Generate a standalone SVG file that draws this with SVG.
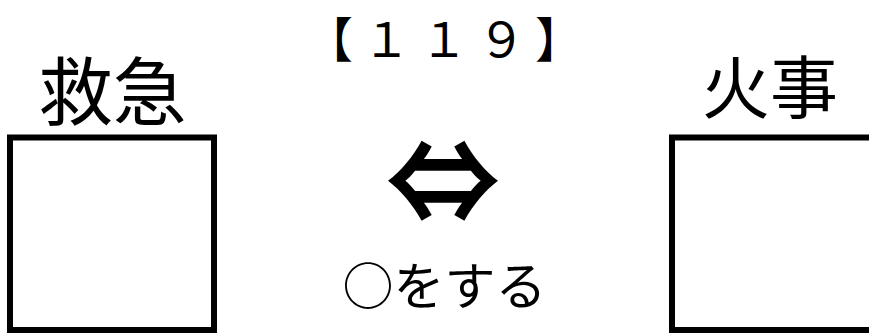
<svg xmlns="http://www.w3.org/2000/svg" width="869" height="333" viewBox="0 0 869 333">
  <style>
    .t { font-family: "Noto Sans CJK JP", "Noto Sans", sans-serif; fill: #000; text-anchor: middle; }
    .box { fill: #fff; stroke: #000; stroke-width: 6; }
  </style>
  <rect x="0" y="0" width="869" height="333" fill="#fff"/>
  <g id="title">
    <text x="305" y="57" font-size="48" letter-spacing="9.5" style="font-family: 'Noto Sans CJK JP', 'Noto Sans', sans-serif; text-anchor: start;">【１１９】</text>
  </g>
  <g id="node-kyukyu">
    <text class="t" x="112.5" y="119" font-size="74">救急</text>
    <rect class="box" x="10" y="137.5" width="204" height="192.5"/>
  </g>
  <g id="node-kaji">
    <text class="t" x="770" y="113" font-size="68">火事</text>
    <rect class="box" x="672" y="137.5" width="204" height="192.5"/>
  </g>
  <g id="connectors">
    <text class="t" x="443" y="224" font-size="115" font-weight="bold">⇔</text>
    <text class="t" x="444.5" y="305" font-size="51">○をする</text>
  </g>
</svg>
